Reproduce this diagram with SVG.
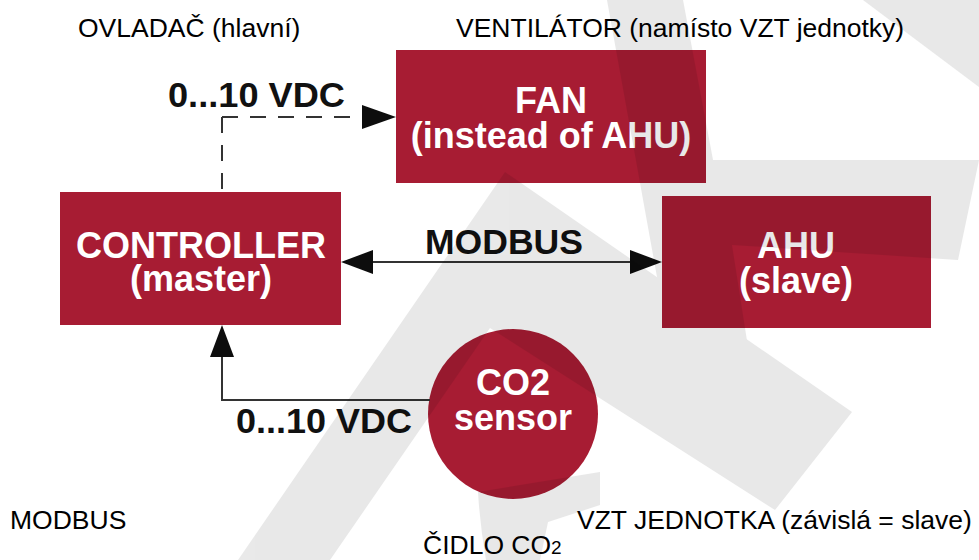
<svg xmlns="http://www.w3.org/2000/svg" width="979" height="560" viewBox="0 0 979 560">
<defs>
<style>
.box{fill:#a71c33}
.nt{font-family:"Liberation Sans",Arial,sans-serif;font-weight:bold;font-size:36px;fill:#ffffff;text-anchor:middle}
.bl{font-family:"Liberation Sans",Arial,sans-serif;font-weight:bold;font-size:35px;fill:#111111}
.cap{font-family:"Liberation Sans",Arial,sans-serif;font-size:26.5px;fill:#000000}
.ln{fill:none;stroke:#333333;stroke-width:2}
.dash{stroke-dasharray:16 12}
.ah{fill:#0d0d0d}
</style>
</defs>
<rect width="979" height="560" fill="#ffffff"/>

<g id="node-fan">
<rect class="box" x="396" y="50" width="310" height="133"/>
<text class="nt" x="551" y="113">FAN</text>
<text class="nt" x="551" y="148">(instead of AHU)</text>
</g>
<g id="node-controller">
<rect class="box" x="60" y="192" width="281" height="133"/>
<text class="nt" x="201" y="258">CONTROLLER</text>
<text class="nt" x="201" y="291">(master)</text>
</g>
<g id="node-ahu">
<rect class="box" x="662" y="196" width="269" height="132"/>
<text class="nt" x="796" y="258">AHU</text>
<text class="nt" x="796" y="293">(slave)</text>
</g>
<g id="node-co2">
<circle class="box" cx="513" cy="414" r="85"/>
<text class="nt" x="513" y="395">CO2</text>
<text class="nt" x="513" y="430">sensor</text>
</g>

<g id="connectors">
<path class="ln dash" d="M222,117 V192"/>
<path class="ln dash" d="M222,117 H362"/>
<polygon class="ah" points="396,117 362,105 362,129"/>
<path class="ln" d="M373,262 H630"/>
<polygon class="ah" points="341,262 373,250 373,274"/>
<polygon class="ah" points="662,262 630,250 630,274"/>
<path class="ln" d="M430,400 H222 V356"/>
<polygon class="ah" points="222,325 210,357 234,357"/>
</g>

<g id="labels">
<text class="bl" x="168" y="107" textLength="177" lengthAdjust="spacingAndGlyphs">0...10 VDC</text>
<text class="bl" x="425" y="254" textLength="158" lengthAdjust="spacingAndGlyphs">MODBUS</text>
<text class="bl" x="236" y="433" textLength="176" lengthAdjust="spacingAndGlyphs">0...10 VDC</text>
<text class="cap" x="78" y="37">OVLADAČ (hlavní)</text>
<text class="cap" x="456" y="37">VENTILÁTOR (namísto VZT jednotky)</text>
<text class="cap" x="10" y="529">MODBUS</text>
<text class="cap" x="577" y="529">VZT JEDNOTKA (závislá = slave)</text>
<text class="cap" x="423" y="554">ČIDLO CO<tspan font-size="19px">2</tspan></text>
</g>

<g id="watermark" opacity="0.085" fill="#000000">
<polygon points="238,560 505,172 852,412 775,510 490,328 330,560"/>
<polygon points="607,0 683,0 713,160 979,160 958,260 732,245 750,360 672,360"/>
<polygon points="863,0 979,0 979,87"/>
<path d="M478,492 L600,472 L600,505 L548,522 L540,560 L486,560 Q480,525 478,492 Z"/>
</g>
</svg>
